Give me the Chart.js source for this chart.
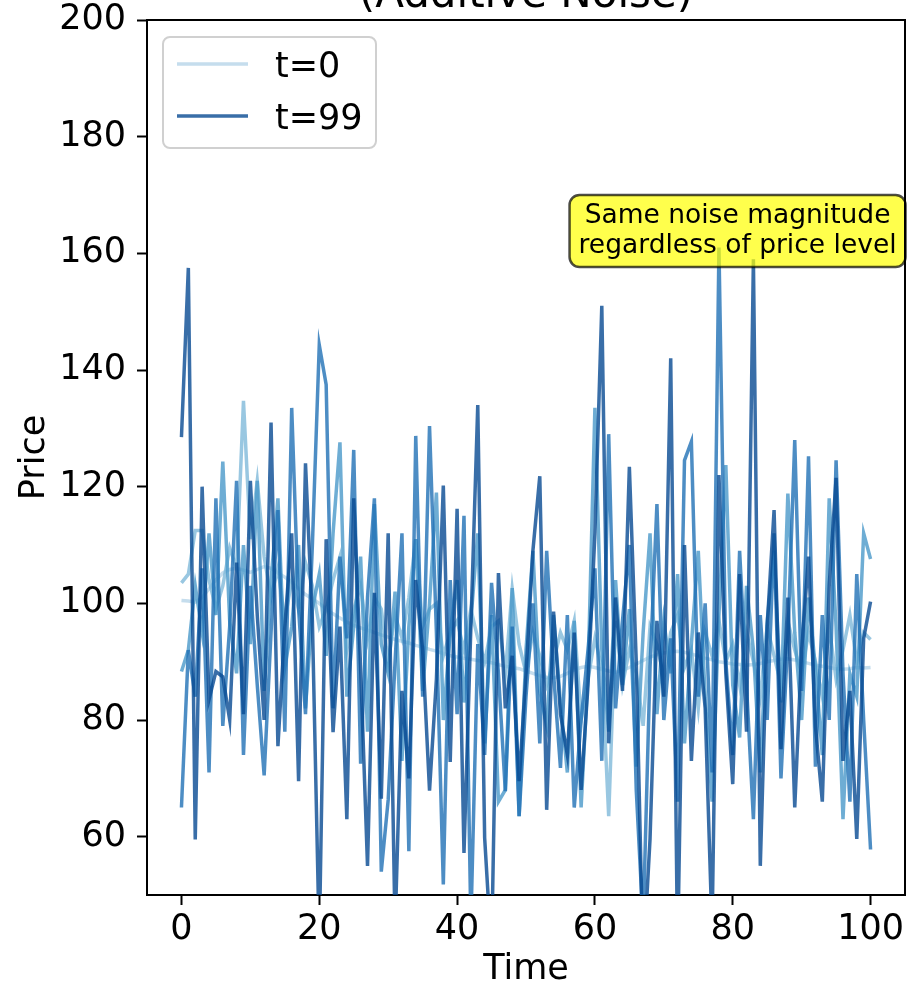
<!DOCTYPE html>
<html>
<head>
<meta charset="utf-8">
<script src="https://cdn.jsdelivr.net/npm/chart.js@4.4.1/dist/chart.umd.min.js"></script>
<style>
    html, body { margin: 0; padding: 0; background: #ffffff; }
    #caixa { width: 913px; height: 991px; position: relative; }
</style>
</head>
<body>
<div id="caixa"><canvas id="grafico_ruido"></canvas></div>
<script>
// eixo do tempo e marcas
var tempo = Array.from({ length: 101 }, (_, i) => i);
var ticksX = [0, 20, 40, 60, 80, 100];
var ticksY = [60, 80, 100, 120, 140, 160, 180, 200];

// series (t = passo de ruido)
var precoT0 = [
    100.5, 100.4, 100.2, 101, 102.5, 104, 105.2, 105.8, 106, 105.7,
    105.3, 105.8, 106.3, 106, 105.2, 104.5, 103.6, 102.5, 101.5, 100.8,
    100, 99, 98.2, 97.5, 96.8, 96.2, 95.8, 95.4, 95, 94.6,
    94.2, 93.8, 93.5, 93.2, 92.8, 92.5, 92.1, 91.8, 91.4, 91,
    90.8, 90.6, 90.4, 90.2, 90, 89.8, 89.5, 89.2, 89, 88.8,
    88.4, 88, 87.6, 87.3, 87.2, 87.5, 88, 88.6, 89, 89.2,
    89, 88.7, 88.4, 88.2, 88.5, 89, 89.6, 90.2, 90.8, 91.2,
    91.5, 91.7, 91.8, 91.6, 91.3, 91, 90.6, 90.3, 90, 89.8,
    89.6, 89.5, 89.4, 89.5, 89.7, 90, 90.2, 90.4, 90.5, 90.3,
    90, 89.7, 89.4, 89.2, 89, 88.8, 88.7, 88.8, 89, 88.9,
    89
];
var precoT25 = [
    103.5, 105, 112.5, 112.5, 104, 99, 103, 109.5, 106, 134.7,
    111, 121, 108, 101, 106, 97, 104, 99, 107, 103,
    96, 99, 104, 108, 92, 99, 103, 94, 101, 99,
    90, 98, 94, 101, 111, 96, 99, 100, 91, 95,
    97, 92, 99, 94, 90, 96, 97, 88, 102.5, 93,
    88, 95, 91, 86, 90, 95, 92, 97, 80, 87,
    94, 89, 63.5, 97, 86, 92, 88, 79, 96, 93,
    87, 95, 98, 89, 92, 82, 95, 91, 97, 90,
    93, 86, 95, 90, 84, 96, 91, 86, 97, 92,
    88, 95, 90, 84, 96, 87, 92, 98, 90, 95,
    93.8
];
var precoT50 = [
    88.3, 92, 103, 95, 112, 98, 124.3, 97, 88, 110,
    93, 121, 85, 104, 118, 89, 96, 110, 82, 99,
    105, 91, 112, 127.6, 84, 96, 108, 78, 117, 93,
    88, 102, 73, 96, 111, 85, 100, 119, 80, 95,
    104, 83, 97, 112, 76, 98, 66, 68, 102.6, 63.5,
    92, 109, 85, 79, 98, 83, 71, 97, 65, 88,
    133.5, 92, 78, 104, 86, 99, 72, 95, 112, 81,
    97, 88, 105, 76, 93, 109, 84, 66, 98, 123.7,
    86, 77, 103, 92, 71, 97, 109, 83, 118.8, 95,
    80, 101, 89, 74, 118, 96, 63, 88, 84, 112,
    107.6
];
var precoT75 = [
    65, 92, 84, 106, 71, 118, 79, 96, 121, 74,
    103, 86, 70.5, 95, 116, 78, 133.5, 99, 81, 110,
    144.3, 137.5, 82, 108, 94, 126.3, 72.5, 101, 118, 54,
    66.3, 90, 112, 57.5, 128.7, 84, 130.4, 95, 51.8, 104,
    81, 115, 45, 93, 74, 103.5, 88, 67.8, 96, 63.5,
    84, 100, 76, 109, 88, 71.8, 98, 65, 80, 92,
    106, 73, 129, 82, 97, 110, 68, 45, 89, 117,
    80, 94, 66, 124.5, 127.7, 84, 100, 71, 161, 90,
    74, 109, 86, 63, 98, 80, 112, 70, 94, 128,
    85, 125.2, 72, 98, 80, 124.5, 88, 66, 105, 80,
    57.8
];
var precoT99 = [
    128.5, 157.5, 59.5, 120, 83.5, 88.3, 87.4, 80, 107, 81,
    121, 98, 80, 131, 75.5, 96, 112, 69.5, 124, 97,
    42, 111, 77.9, 96, 63, 118, 89, 55, 101.8, 66.5,
    112, 44, 85, 70, 104, 92, 67.9, 87, 120.2, 72.8,
    116.2, 57.2, 96, 134, 59.8, 40, 105.2, 82, 91, 69.5,
    88, 109, 121.8, 64.6, 98.6, 81, 74, 95, 68, 86,
    112, 151, 76, 101, 85, 123.4, 90, 38, 59.6, 97,
    84, 142, 40, 110, 73, 95, 82, 44, 122, 88,
    69, 105, 78, 159, 55, 96, 116, 75, 101, 65,
    92, 108, 79, 66, 103, 121.5, 73, 85, 59.6, 94,
    100.3
];

var series = [precoT0, precoT25, precoT50, precoT75, precoT99];
var rotulos = ['t=0', '', '', '', 't=99'];
var cores = [
    'rgba(182, 212, 233, 0.8)',
    'rgba(127, 185, 218, 0.8)',
    'rgba(74, 152, 201, 0.8)',
    'rgba(33, 113, 181, 0.8)',
    'rgba(8, 74, 146, 0.8)'
];
var notaTexto = ['Same noise magnitude', 'regardless of price level'];
var notaX = 80.7;
var notaY = 165.2;

Chart.defaults.font.family = "'DejaVu Sans', sans-serif";
Chart.defaults.color = '#000000';

var enfeites = {
    id: 'enfeites',
    afterDatasetsDraw: function(chart) {
        var ctx = chart.ctx;
        var area = chart.chartArea;
        var sx = chart.scales.x;
        var sy = chart.scales.y;
        ctx.save();

        // caixa amarela da nota
        ctx.font = "26.5px 'DejaVu Sans'";
        var largura = Math.max.apply(null, notaTexto.map(function(t) { return ctx.measureText(t).width; }));
        var cx = sx.getPixelForValue(notaX);
        var base1 = sy.getPixelForValue(notaY);
        var esq = cx - largura / 2 - 9;
        var topo = base1 - 28;
        ctx.beginPath();
        ctx.roundRect(esq, topo, largura + 18, 72, 10);
        ctx.fillStyle = 'rgba(255, 255, 0, 0.7)';
        ctx.fill();
        ctx.lineWidth = 2.5;
        ctx.strokeStyle = 'rgba(0, 0, 0, 0.7)';
        ctx.stroke();
        ctx.fillStyle = '#000000';
        ctx.textAlign = 'center';
        ctx.textBaseline = 'alphabetic';
        notaTexto.forEach(function(t, i) {
            ctx.fillText(t, cx, base1 + i * 30);
        });

        // moldura de cima e da direita
        ctx.strokeStyle = '#000000';
        ctx.lineWidth = 2;
        ctx.beginPath();
        ctx.moveTo(area.left, area.top);
        ctx.lineTo(area.right, area.top);
        ctx.lineTo(area.right, area.bottom);
        ctx.stroke();

        // legenda
        var lx = area.left + 16;
        var ly = area.top + 17;
        ctx.beginPath();
        ctx.roundRect(lx, ly, 213, 111, 7);
        ctx.fillStyle = 'rgba(255, 255, 255, 0.8)';
        ctx.fill();
        ctx.strokeStyle = '#d0d0d0';
        ctx.lineWidth = 2;
        ctx.stroke();
        ctx.font = "35px 'DejaVu Sans'";
        ctx.textAlign = 'left';
        var linha = 0;
        chart.data.datasets.forEach(function(ds) {
            if (!ds.label) {
                return;
            }
            var yy = ly + 27 + linha * 52;
            ctx.strokeStyle = ds.borderColor;
            ctx.lineWidth = 3.5;
            ctx.beginPath();
            ctx.moveTo(lx + 14, yy);
            ctx.lineTo(lx + 85, yy);
            ctx.stroke();
            ctx.fillStyle = '#000000';
            ctx.fillText(ds.label, lx + 112, yy + 13);
            linha++;
        });

        // titulo cortado no topo
        ctx.font = "42px 'DejaVu Sans'";
        ctx.textAlign = 'center';
        ctx.fillText('(Additive Noise)', (area.left + area.right) / 2, 7);
        ctx.restore();
    }
};

var grafico = new Chart(document.getElementById('grafico_ruido').getContext('2d'), {
    type: 'line',
    data: {
        labels: tempo,
        datasets: series.map(function(valores, i) {
            return {
                label: rotulos[i],
                data: valores,
                borderColor: cores[i],
                backgroundColor: cores[i],
                borderWidth: 3.5,
                pointRadius: 0,
                tension: 0,
                fill: false,
                order: series.length - i
            };
        })
    },
    options: {
        responsive: true,
        maintainAspectRatio: false,
        animation: false,
        layout: { padding: { top: 20, right: 8, left: 0, bottom: 0 } },
        plugins: {
            legend: { display: false },
            title: { display: false },
            tooltip: { enabled: false }
        },
        scales: {
            x: {
                type: 'linear',
                min: -5,
                max: 105,
                afterBuildTicks: function(s) { s.ticks = ticksX.map(function(v) { return { value: v }; }); },
                afterFit: function(s) { s.height = 96; s.paddingRight = 0; },
                ticks: { font: { size: 35 }, color: '#000000', padding: 4, maxRotation: 0, autoSkip: false },
                grid: { drawOnChartArea: false, drawTicks: true, tickLength: 10, tickWidth: 2, tickColor: '#000000' },
                border: { display: true, color: '#000000', width: 2 },
                title: { display: true, text: 'Time', font: { size: 35 }, color: '#000000', padding: { top: 0, bottom: 0 } }
            },
            y: {
                min: 50,
                max: 200,
                afterBuildTicks: function(s) { s.ticks = ticksY.map(function(v) { return { value: v }; }); },
                afterFit: function(s) { s.width = 147; s.paddingTop = 0; s.paddingBottom = 0; },
                ticks: { font: { size: 35 }, color: '#000000', padding: 11, autoSkip: false },
                grid: { drawOnChartArea: false, drawTicks: true, tickLength: 10, tickWidth: 2, tickColor: '#000000' },
                border: { display: true, color: '#000000', width: 2 },
                title: { display: true, text: 'Price', font: { size: 35 }, color: '#000000', padding: { top: 14, bottom: 0 } }
            }
        }
    },
    plugins: [enfeites]
});
</script>
</body>
</html>
